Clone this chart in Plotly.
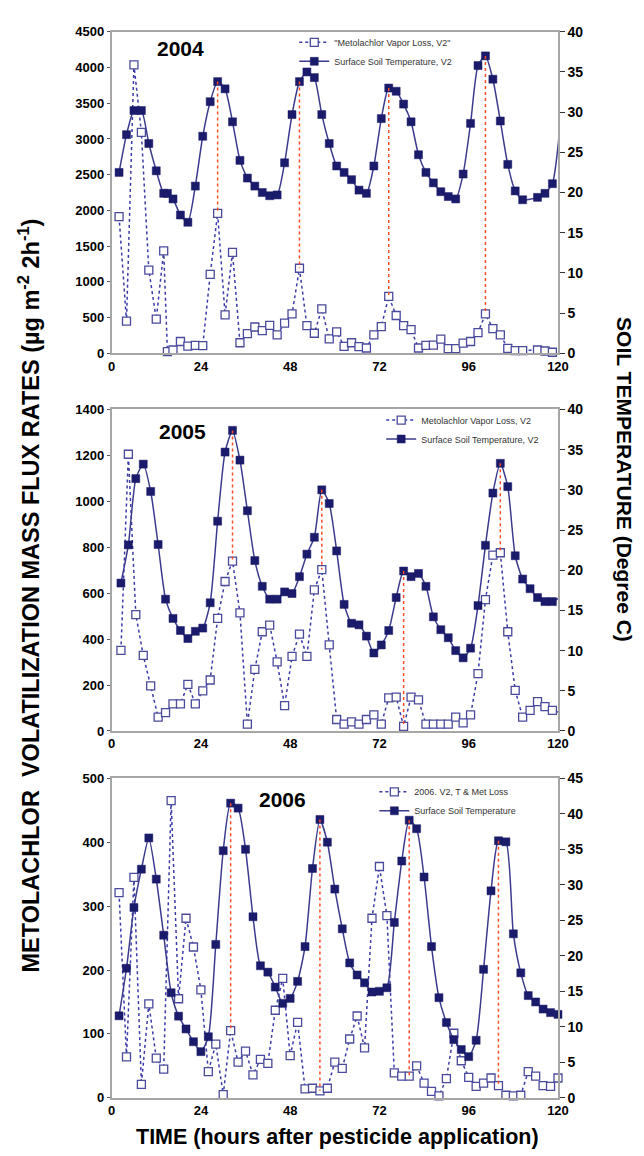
import plotly.graph_objects as go

W, H = 644, 1156

# ---------------- 2004 ----------------
hours_2004 = [2, 4, 6, 8, 10, 12, 14, 15, 16.5, 18.5, 20.5, 22.5, 24.5, 26.5, 28.5, 30.5,
              32.5, 34.5, 36.5, 38.5, 40.5, 42.5, 44.5, 46.5, 48.5, 50.5, 52.5, 54.5, 56.5,
              58.5, 60.5, 62.5, 64.5, 66.5, 68.5, 70.5, 72.5, 74.5, 76.5, 78.5, 80.5, 82.5,
              84.5, 86.5, 88.5, 90.5, 92.5, 94.5, 96.5, 98.5, 100.5, 102.5, 104.5, 106.5,
              108.5, 110.5, 114.5, 116.5, 118.5, 120.5]
temp_2004 = [22.5, 27.2, 30.2, 30.2, 26.1, 22.7, 19.9, 19.9, 19.2, 17.2, 16.3, 20.8, 27.0, 31.3,
             33.8, 32.9, 28.8, 24.0, 21.8, 20.8, 20.0, 19.6, 19.7, 23.7, 29.7, 33.8, 35.0, 34.3,
             29.7, 26.1, 23.3, 22.5, 21.6, 20.3, 19.9, 23.3, 29.2, 33.0, 32.6, 31.0, 28.8, 24.7,
             22.5, 21.2, 20.1, 19.5, 19.2, 22.3, 28.6, 35.8, 37.0, 34.1, 28.9, 23.5, 20.2, 19.1,
             19.4, 19.9, 21.1, 28.0]
loss_2004 = [1912, 450, 4036, 3093, 1163, 478, 1434, 23, 46, 165, 101, 110, 106, 1103, 1958, 538,
             1411, 147, 276, 368, 317, 391, 257, 423, 551, 1190, 386, 280, 620, 202, 299, 97,
             147, 92, 74, 257, 372, 795, 529, 386, 331, 74, 110, 115, 198, 64, 64, 142, 165, 290,
             551, 345, 257, 69, 37, 37, 46, 32, 14, 40]
links_2004 = [28.5, 50.5, 74.5, 100.5]

# ---------------- 2005 ----------------
hours_2005 = [2.5, 4.5, 6.5, 8.5, 10.5, 12.5, 14.5, 16.5, 18.5, 20.5, 22.5, 24.5, 26.5, 28.5,
              30.5, 32.5, 34.5, 36.5, 38.5, 40.5, 42.5, 44.5, 46.5, 48.5, 50.5, 52.5, 54.5, 56.5,
              58.5, 60.5, 62.5, 64.5, 66.5, 68.5, 70.5, 72.5, 74.5, 76.5, 78.5, 80.5, 82.5, 84.5,
              86.5, 88.5, 90.5, 92.5, 94.5, 96.5, 98.5, 100.5, 102.5, 104.5, 106.5, 108.5, 110.5,
              112.5, 114.5, 116.5, 118.5, 120.5]
temp_2005 = [18.4, 23.15, 31.4, 33.2, 29.8, 23.2, 16.4, 14.0, 12.5, 11.5, 12.4, 12.8, 15.95, 26.1,
             34.7, 37.4, 33.7, 27.4, 21.2, 18.0, 16.4, 16.4, 17.3, 17.1, 19.2, 22.0, 24.1, 30.0,
             28.3, 22.4, 15.75, 13.4, 13.2, 11.8, 9.7, 10.7, 12.5, 16.6, 19.9, 19.2, 19.6, 18.0,
             14.2, 12.6, 11.6, 10.0, 9.1, 10.3, 15.6, 23.1, 29.6, 33.3, 30.4, 21.8, 18.9, 17.7,
             16.6, 16.1, 16.1, 16.6]
loss_2005 = [351, 1205, 507, 329, 196, 60, 80, 118, 118, 203, 118, 175, 222, 490, 651, 740, 514,
             30, 268, 432, 461, 301, 110, 325, 422, 325, 614, 703, 375, 50, 30, 40, 30, 50, 70,
             30, 144, 147, 20, 147, 135, 30, 30, 30, 30, 60, 35, 70, 250, 572, 766, 776, 432,
             177, 60, 90, 128, 106, 90, 80]
links_2005 = [32.5, 56.5, 78.5, 104.5]

# ---------------- 2006 ----------------
hours_2006 = [2, 4, 6, 8, 10, 12, 14, 16, 18, 20, 22, 24, 26, 28, 30, 32, 34, 36, 38, 40, 42, 44,
              46, 48, 50, 52, 54, 56, 58, 60, 62, 64, 66, 68, 70, 72, 74, 76, 78, 80, 82, 84, 86,
              88, 90, 92, 94, 96, 98, 100, 102, 104, 106, 108, 110, 112, 114, 116, 118, 120]
temp_2006 = [11.55, 18.25, 26.8, 32.2, 36.6, 30.8, 22.9, 14.8, 11.5, 9.7, 7.9, 6.5, 8.6, 21.6,
             34.8, 41.5, 40.8, 35.0, 25.5, 18.6, 17.7, 15.6, 13.3, 14.0, 16.4, 21.3, 32.3, 39.2,
             36.0, 29.4, 23.8, 19.0, 17.3, 16.2, 14.9, 15.0, 15.5, 24.7, 33.35, 39.1, 37.9, 31.1,
             21.3, 14.1, 10.6, 8.2, 6.8, 5.8, 8.1, 18.1, 29.15, 36.2, 36.05, 23.1, 17.6, 14.4,
             13.5, 12.5, 12.0, 11.75]
loss_2006 = [321, 64, 345, 21, 147, 62, 45, 465, 155, 281, 236, 169, 41, 84, 5, 105, 56, 73, 36,
             60, 54, 137, 187, 66, 118, 14, 15, 11, 15, 56, 46, 92, 128, 78, 281, 362, 285, 39,
             34, 34, 50, 23, 10, 3, 30, 101, 58, 32, 18, 23, 31, 19, 4, 3, 4, 41, 34, 19, 18, 31]
links_2006 = [32, 56, 80, 104]

x_ticks = [0, 24, 48, 72, 96, 120]

NAVY = "#1b1b6b"
TLINE = "#3b3b8e"
OPEN = "#4a4a9c"
DOTLINE = "#3a3aa8"
RED = "#ff4a26"
AXIS = "#a6a6a6"
FONT = "Liberation Sans, Arial, sans-serif"

panels = [
    dict(year="2004", hours=hours_2004, temp=temp_2004, loss=loss_2004, links=links_2004,
         lmax=4500, ldt=500, rmax=40, rdt=5, top=16, bottom=342,
         leg=(289, 12), year_xy=(173, 33),
         names=('"Metolachlor Vapor Loss, V2"', "Surface Soil Temperature, V2")),
    dict(year="2005", hours=hours_2005, temp=temp_2005, loss=loss_2005, links=links_2005,
         lmax=1400, ldt=200, rmax=40, rdt=5, top=399, bottom=725,
         leg=(378, 395), year_xy=(175, 421),
         names=("Metolachlor Vapor Loss, V2", "Surface Soil Temperature, V2")),
    dict(year="2006", hours=hours_2006, temp=temp_2006, loss=loss_2006, links=links_2006,
         lmax=500, ldt=100, rmax=45, rdt=5, top=773, bottom=1097,
         leg=(371, 772), year_xy=(277, 795),
         names=("2006. V2, T & Met Loss", "Surface Soil Temperature")),
]

fig = go.Figure()
layout = dict(width=W, height=H, margin=dict(l=0, r=0, t=0, b=0),
              paper_bgcolor="white", plot_bgcolor="white", showlegend=True,
              font=dict(family=FONT, color="black"))
annotations = []
X0, X1 = 102, 559

for i, p in enumerate(panels):
    xs = "" if i == 0 else str(i + 1)
    yl = "" if i == 0 else str(2 * i + 1)
    yr = str(2 * i + 2)
    legname = "legend" if i == 0 else "legend" + str(i + 1)
    dom_y = [1 - p["bottom"] / H, 1 - p["top"] / H]

    layout["xaxis" + xs] = dict(domain=[X0 / W, X1 / W], range=[0, 120], tickvals=x_ticks,
                                anchor="y" + yl, showline=True, mirror=True, linecolor=AXIS,
                                linewidth=1.5, showgrid=False, zeroline=False, ticks="",
                                tickfont=dict(size=13, family=FONT, weight="bold"))
    layout["yaxis" + yl] = dict(domain=dom_y, range=[0, p["lmax"]], dtick=p["ldt"],
                                anchor="x" + xs, showline=True, linecolor=AXIS, linewidth=1.5,
                                showgrid=False, zeroline=False, ticks="outside", ticklen=3,
                                tickcolor="#555", tickfont=dict(size=13, family=FONT, weight="bold"))
    layout["yaxis" + yr] = dict(domain=dom_y, range=[0, p["rmax"]], dtick=p["rdt"],
                                anchor="x" + xs, overlaying="y" + yl, side="right",
                                showline=True, linecolor=AXIS, linewidth=1.5, showgrid=False,
                                zeroline=False, ticks="outside", ticklen=5, tickcolor="#333",
                                tickfont=dict(size=14, family=FONT, weight="bold"))
    layout[legname] = dict(x=p["leg"][0] / W, y=1 - p["leg"][1] / H, xanchor="left",
                           yanchor="top", bgcolor="rgba(0,0,0,0)", borderwidth=0,
                           font=dict(size=9, family=FONT, color="#333"), tracegroupgap=0,
                           itemwidth=30)

    fig.add_trace(go.Scatter(
        x=p["hours"], y=p["loss"], xaxis="x" + xs, yaxis="y" + yl, name=p["names"][0],
        legend=legname, mode="lines+markers", cliponaxis=False,
        line=dict(color=DOTLINE, width=1.5, dash="dot"),
        marker=dict(symbol="square", size=8, color="white", line=dict(color=OPEN, width=1.3))))
    fig.add_trace(go.Scatter(
        x=p["hours"], y=p["temp"], xaxis="x" + xs, yaxis="y" + yr, name=p["names"][1],
        legend=legname, mode="lines+markers", cliponaxis=False,
        line=dict(color=TLINE, width=1.5, shape="spline", smoothing=0.6),
        marker=dict(symbol="square", size=8, color=NAVY, line=dict(color=NAVY, width=0.5))))

    scale = p["rmax"] / p["lmax"]
    for h in p["links"]:
        k = p["hours"].index(h)
        fig.add_trace(go.Scatter(
            x=[h, h], y=[p["temp"][k], p["loss"][k] * scale], xaxis="x" + xs, yaxis="y" + yr,
            mode="lines", showlegend=False, hoverinfo="skip",
            line=dict(color=RED, width=1.5, dash="dot")))

    annotations.append(dict(text=p["year"], x=p["year_xy"][0] / W, y=1 - p["year_xy"][1] / H,
                            xref="paper", yref="paper", showarrow=False, xanchor="center",
                            yanchor="middle",
                            font=dict(size=21, family=FONT, weight="bold", color="black")))

annotations.append(dict(
    text="METOLACHLOR\u00a0 VOLATILIZATION MASS FLUX RATES (\u00b5g m<sup>-2</sup> 2h<sup>-1</sup>)",
    x=17 / W, y=1 - 588 / H, xref="paper", yref="paper", showarrow=False, textangle=-90,
    xanchor="center", yanchor="middle",
    font=dict(size=23.5, family=FONT, weight="bold", color="black")))
annotations.append(dict(
    text="SOIL TEMPERATURE (Degree C)", x=627 / W, y=1 - 470 / H, xref="paper", yref="paper",
    showarrow=False, textangle=90, xanchor="center", yanchor="middle",
    font=dict(size=21, family=FONT, weight="bold", color="black")))
annotations.append(dict(
    text="TIME (hours after pesticide application)", x=333 / W, y=1 - 1137 / H, xref="paper",
    yref="paper", showarrow=False, xanchor="center", yanchor="middle",
    font=dict(size=21.5, family=FONT, weight="bold", color="black")))

layout["annotations"] = annotations
fig.update_layout(**layout)
fig.write_html("out.html")
